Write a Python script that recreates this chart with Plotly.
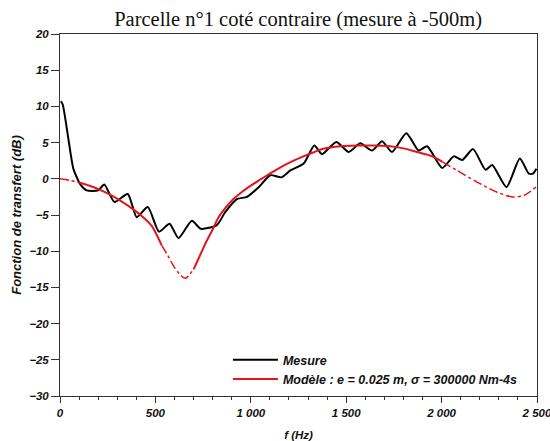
import plotly.graph_objects as go

# Measured transfer function (Hz, dB)
mes_f = [5, 15, 44, 70, 105, 140, 200, 232, 285, 355, 402, 460, 519, 574, 621, 691, 738,
         822, 866, 927, 980, 1040, 1102, 1160, 1207, 1277, 1333, 1373, 1448, 1513, 1574,
         1635, 1688, 1740, 1815, 1880, 1924, 2003, 2064, 2108, 2165, 2230, 2265, 2340,
         2410, 2457, 2478, 2497]
mes_db = [10.7, 10.2, 5.5, 1.4, -0.7, -1.6, -1.6, -0.8, -3.2, -2.1, -5.3, -3.9, -7.3, -6.2,
          -8.2, -5.8, -6.9, -6.4, -4.6, -2.8, -2.5, -1.2, 0.5, 0.2, 1.15, 2.1, 4.6, 3.4,
          5.1, 3.7, 4.9, 3.9, 5.2, 3.7, 6.3, 3.9, 4.5, 1.5, 3.1, 2.6, 4.1, 1.25, 1.9,
          -1.15, 2.8, 0.7, 0.7, 1.4]

# Model curve (Hz, dB)
mod_f = [0, 50, 105, 170, 236, 310, 393, 440, 481, 533, 565, 594, 625, 656, 700, 730, 761,
         800, 831, 865, 901, 950, 988, 1050, 1111, 1200, 1285, 1381, 1470, 1556, 1650,
         1731, 1800, 1871, 1930, 1976, 2005, 2081, 2186, 2291, 2370, 2431, 2497]
mod_db = [0, -0.2, -0.55, -1.1, -1.85, -2.9, -4.4, -5.4, -6.5, -9.2, -10.6, -12, -13.1,
          -13.75, -12.5, -10.8, -9, -7, -5.3, -4.1, -3, -1.9, -1.15, -0.1, 0.9, 2.2, 3.2,
          4.15, 4.5, 4.6, 4.6, 4.5, 4.2, 3.7, 3.3, 2.8, 2.35, 1.15, -0.46, -1.85, -2.5,
          -2.3, -1.1]
# segments: (start Hz, end Hz, solid?)
mod_segments = [(0, 105, False), (105, 533, True), (533, 700, False), (700, 2005, True),
                (2005, 2500, False)]

x_ticks = [0, 500, 1000, 1500, 2000, 2500]
x_ticktext = ["0", "500", "1 000", "1 500", "2 000", "2 500"]
y_ticks = [20, 15, 10, 5, 0, -5, -10, -15, -20, -25, -30]

RED = "#e3141c"
tickfont = dict(family="Liberation Sans, Arial", size=11.5, color="#111", weight="bold", style="italic")
legfont = dict(family="Liberation Sans, Arial", size=12.5, color="#111", weight="bold", style="italic")

fig = go.Figure()
fig.add_trace(go.Scatter(x=mes_f, y=mes_db, mode="lines", name="Mesure",
                         line=dict(color="#000", width=2, shape="spline", smoothing=0.6)))
first_solid = True
for a, b, solid in mod_segments:
    xs = [f for f in mod_f if a <= f <= b]
    ys = [d for f, d in zip(mod_f, mod_db) if a <= f <= b]
    show = solid and first_solid
    if show:
        first_solid = False
    fig.add_trace(go.Scatter(
        x=xs, y=ys, mode="lines", name="Modèle : e = 0.025 m, σ = 300000 Nm-4s",
        legendgroup="mod", showlegend=show,
        line=dict(color=RED, width=2 if solid else 1.5, shape="spline", smoothing=0.8,
                  dash="solid" if solid else "dashdot")))

fig.update_layout(
    width=550, height=441,
    margin=dict(l=60, r=13, t=34, b=45),
    plot_bgcolor="white", paper_bgcolor="white",
    title=dict(text="Parcelle n°1 coté contraire (mesure à -500m)", x=0.542, xanchor="center",
               y=0.958, yanchor="middle",
               font=dict(family="Liberation Serif, Times New Roman", size=20.5, color="#111")),
    showlegend=True,
    legend=dict(x=0.352, y=0.005, xanchor="left", yanchor="bottom", bgcolor="rgba(255,255,255,0)",
                font=legfont, tracegroupgap=0, itemwidth=45),
    xaxis=dict(range=[0, 2500], tickvals=x_ticks, ticktext=x_ticktext, ticks="outside",
               ticklen=6, tickwidth=1, tickcolor="#333", showgrid=False, zeroline=False,
               showline=True, linecolor="#333", linewidth=1, mirror=True,
               tickfont=tickfont, automargin=False, ticklabeloverflow="allow",
               minor=dict(dtick=100, ticks="outside", ticklen=3, tickcolor="#333"),
               title=dict(text="f (Hz)", font=tickfont, standoff=14)),
    yaxis=dict(range=[-30, 20], tickvals=y_ticks, ticks="outside", ticklen=8, tickwidth=1,
               tickcolor="#333", showgrid=False, zeroline=False, showline=True,
               linecolor="#333", linewidth=1, mirror=True, tickfont=tickfont, automargin=False,
               title=dict(text="Fonction de transfert (dB)",
                          font=dict(family="Liberation Sans, Arial", size=13, color="#111",
                                    style="italic", weight="bold"), standoff=4)),
)
fig.write_html("out.html")
